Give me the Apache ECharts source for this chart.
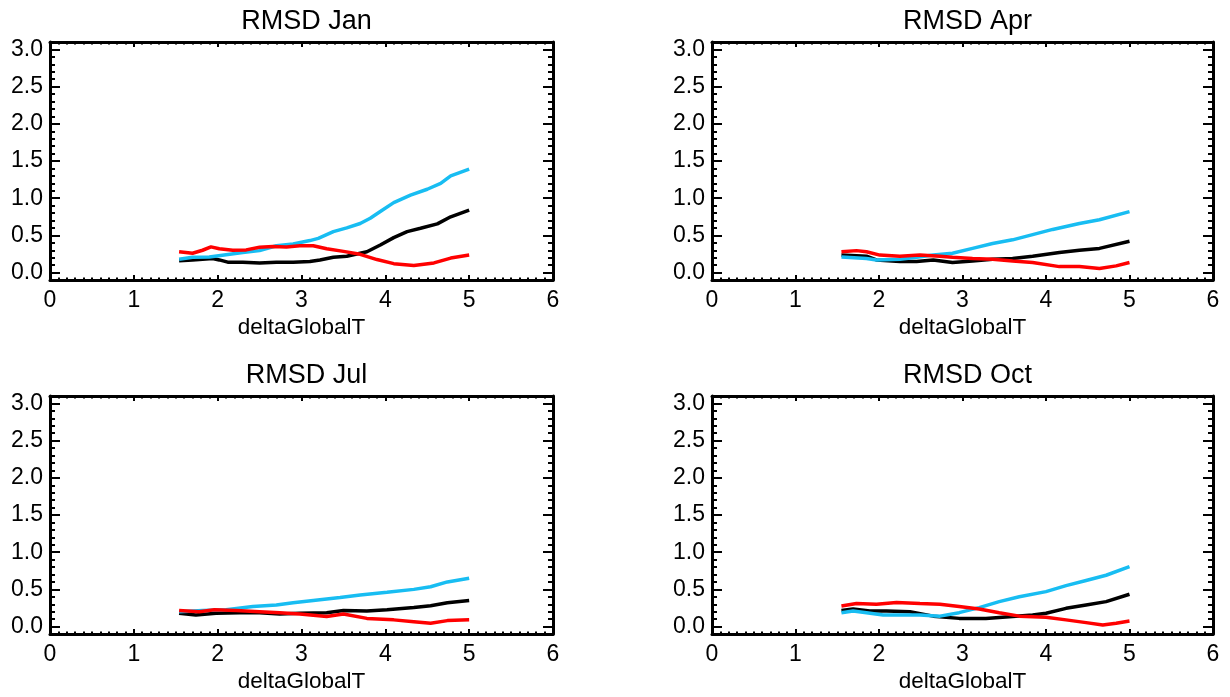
<!DOCTYPE html>
<html>
<head>
<meta charset="utf-8">
<script src="https://cdn.jsdelivr.net/npm/echarts@6/dist/echarts.min.js"></script>
<style>html,body{margin:0;padding:0;background:#fff;}#c{width:1230px;height:697px;}</style>
</head>
<body>
<div id="c"></div>
<script>
// ---- data ----
const panelTitles = ['RMSD Jan', 'RMSD Apr', 'RMSD Jul', 'RMSD Oct'];
const xTickValues = [0, 1, 2, 3, 4, 5, 6];
const yTickValues = [0, 0.5, 1.0, 1.5, 2.0, 2.5, 3.0];
const xAxisName = 'deltaGlobalT';

// Jan
const janBlackX = [1.54,1.70,1.94,2.02,2.12,2.30,2.50,2.70,2.90,3.10,3.22,3.38,3.54,3.78,3.94,4.10,4.26,4.42,4.62,4.78,5.00];
const janBlackY = [0.16,0.17,0.19,0.17,0.14,0.14,0.13,0.14,0.14,0.15,0.17,0.205,0.22,0.28,0.37,0.47,0.55,0.595,0.655,0.75,0.84];
const janCyanX = [1.54,1.70,1.90,2.10,2.30,2.50,2.70,2.90,3.10,3.20,3.38,3.54,3.70,3.82,3.94,4.10,4.30,4.50,4.66,4.78,5.00];
const janCyanY = [0.18,0.205,0.21,0.24,0.27,0.295,0.36,0.385,0.43,0.46,0.55,0.60,0.66,0.73,0.82,0.94,1.04,1.12,1.20,1.30,1.39];
const janRedX = [1.54,1.70,1.82,1.92,2.02,2.18,2.34,2.50,2.66,2.82,2.98,3.14,3.30,3.50,3.70,3.90,4.10,4.34,4.58,4.78,5.00];
const janRedY = [0.28,0.26,0.30,0.345,0.32,0.30,0.305,0.34,0.35,0.345,0.36,0.36,0.32,0.285,0.245,0.175,0.12,0.095,0.13,0.195,0.235];

// Apr
const aprBlackX = [1.55,1.85,1.97,2.25,2.45,2.65,2.88,3.12,3.36,3.60,3.84,4.16,4.40,4.64,5.00];
const aprBlackY = [0.235,0.22,0.17,0.15,0.15,0.17,0.135,0.155,0.18,0.19,0.22,0.27,0.30,0.325,0.42];
const aprCyanX = [1.55,1.85,1.97,2.25,2.45,2.65,2.88,3.12,3.36,3.60,3.84,4.08,4.40,4.64,5.00];
const aprCyanY = [0.21,0.19,0.17,0.18,0.205,0.235,0.26,0.325,0.39,0.44,0.51,0.58,0.66,0.71,0.82];
const aprRedX = [1.55,1.73,1.85,2.01,2.25,2.49,2.73,2.88,3.12,3.36,3.60,3.84,4.16,4.40,4.64,4.84,5.00];
const aprRedY = [0.28,0.295,0.28,0.235,0.22,0.235,0.22,0.205,0.19,0.18,0.155,0.135,0.08,0.08,0.055,0.09,0.135];

// Jul
const julBlackX = [1.54,1.74,1.98,2.26,2.50,2.74,2.98,3.30,3.50,3.78,4.02,4.34,4.54,4.74,5.00];
const julBlackY = [0.18,0.155,0.18,0.187,0.187,0.17,0.18,0.187,0.215,0.21,0.225,0.255,0.28,0.32,0.35];
const julCyanX = [1.54,1.82,2.10,2.42,2.70,2.90,3.14,3.46,3.70,4.02,4.34,4.54,4.74,5.00];
const julCyanY = [0.20,0.215,0.225,0.27,0.29,0.32,0.35,0.39,0.425,0.46,0.50,0.535,0.60,0.65];
const julRedX = [1.54,1.78,1.96,2.22,2.50,2.74,2.98,3.30,3.50,3.78,4.10,4.34,4.54,4.74,5.00];
const julRedY = [0.215,0.20,0.225,0.215,0.20,0.187,0.17,0.135,0.17,0.11,0.09,0.066,0.045,0.08,0.09];

// Oct
const octBlackX = [1.55,1.69,1.89,2.09,2.37,2.65,2.96,3.28,3.60,3.84,4.00,4.24,4.48,4.72,5.00];
const octBlackY = [0.215,0.235,0.21,0.21,0.20,0.14,0.11,0.11,0.135,0.156,0.18,0.245,0.29,0.335,0.435];
const octCyanX = [1.55,1.69,1.85,2.05,2.25,2.49,2.73,2.96,3.20,3.44,3.68,4.00,4.24,4.48,4.72,5.00];
const octCyanY = [0.187,0.21,0.187,0.156,0.156,0.156,0.14,0.187,0.255,0.335,0.40,0.47,0.55,0.62,0.69,0.805];
const octRedX = [1.55,1.73,1.97,2.21,2.49,2.73,2.96,3.20,3.44,3.68,4.00,4.24,4.48,4.68,4.84,5.00];
const octRedY = [0.277,0.31,0.30,0.325,0.31,0.30,0.27,0.235,0.187,0.14,0.125,0.09,0.053,0.02,0.045,0.075];

const panelSeries = [
  [[janBlackX, janBlackY], [janCyanX, janCyanY], [janRedX, janRedY]],
  [[aprBlackX, aprBlackY], [aprCyanX, aprCyanY], [aprRedX, aprRedY]],
  [[julBlackX, julBlackY], [julCyanX, julCyanY], [julRedX, julRedY]],
  [[octBlackX, octBlackY], [octCyanX, octCyanY], [octRedX, octRedY]]
];
const seriesColors = ['#000000', '#18bdf2', '#ff0000'];

// ---- layout ----
const FONT = 'Liberation Sans, Arial, Helvetica, sans-serif';
const grids = [
  {left: 50, top: 42, width: 503, height: 238},
  {left: 712, top: 42, width: 501, height: 238},
  {left: 50, top: 396, width: 503, height: 238},
  {left: 712, top: 396, width: 501, height: 238}
];
const Y_MIN = -0.1, Y_MAX = 3.1;
const yMinorValues = [];
for (let i = 0; i <= 31; i++) { if (i % 5 !== 0) yMinorValues.push(i / 10); }

const xAxes = [], yAxes = [], series = [], titles = [];
const lineW = 3;
grids.forEach((g, gi) => {
  titles.push({
    text: panelTitles[gi], left: g.left + g.width / 2, top: g.top - 39, textAlign: 'center',
    textStyle: {fontFamily: FONT, fontSize: 27, fontWeight: 'normal', color: '#000'}
  });
  const baseX = {
    type: 'value', gridIndex: gi, min: 0, max: 6, interval: 1,
    axisLine: {show: true, onZero: false, lineStyle: {color: '#000', width: lineW}},
    axisTick: {show: true, inside: true, length: 5, lineStyle: {color: '#000', width: 2}},
    minorTick: {show: true, splitNumber: 10, length: 2.5, lineStyle: {color: '#000', width: 2}},
    splitLine: {show: false}, minorSplitLine: {show: false}
  };
  xAxes.push(Object.assign({}, baseX, {
    position: 'bottom',
    axisLabel: {show: true, margin: 9, fontSize: 23, fontFamily: FONT, color: '#000', customValues: xTickValues},
    name: xAxisName, nameLocation: 'middle', nameGap: 36,
    nameTextStyle: {fontSize: 22.5, fontFamily: FONT, color: '#000'}
  }));
  xAxes.push(Object.assign({}, baseX, {position: 'top', axisLabel: {show: false}}));

  const baseY = {
    type: 'value', gridIndex: gi, min: Y_MIN, max: Y_MAX,
    splitLine: {show: false}
  };
  yAxes.push(Object.assign({}, baseY, {
    position: 'left',
    axisLine: {show: true, onZero: false, lineStyle: {color: '#000', width: lineW}},
    axisTick: {show: true, inside: true, length: 10, customValues: yTickValues, lineStyle: {color: '#000', width: 2}},
    axisLabel: {show: true, margin: 7, fontSize: 23, fontFamily: FONT, color: '#000', customValues: yTickValues,
      formatter: v => Number(v).toFixed(1), padding: [0, 0, 4, 0]}
  }));
  yAxes.push(Object.assign({}, baseY, {
    position: 'left',
    axisLine: {show: false, onZero: false},
    axisTick: {show: true, inside: true, length: 5, customValues: yMinorValues, lineStyle: {color: '#000', width: 2}},
    axisLabel: {show: false}
  }));
  yAxes.push(Object.assign({}, baseY, {
    position: 'right',
    axisLine: {show: true, onZero: false, lineStyle: {color: '#000', width: lineW}},
    axisTick: {show: true, inside: true, length: 10, customValues: yTickValues, lineStyle: {color: '#000', width: 2}},
    axisLabel: {show: false}
  }));
  yAxes.push(Object.assign({}, baseY, {
    position: 'right',
    axisLine: {show: false, onZero: false},
    axisTick: {show: true, inside: true, length: 5, customValues: yMinorValues, lineStyle: {color: '#000', width: 2}},
    axisLabel: {show: false}
  }));

  panelSeries[gi].forEach((s, si) => {
    const xs = s[0], ys = s[1];
    series.push({
      type: 'line', xAxisIndex: gi * 2, yAxisIndex: gi * 4,
      data: xs.map((x, i) => [x, ys[i]]),
      symbol: 'none', smooth: false, silent: true,
      lineStyle: {color: seriesColors[si], width: 3.5},
      z: 2 + si
    });
  });
});

const chart = echarts.init(document.getElementById('c'), null, {renderer: 'canvas'});
chart.setOption({
  animation: false,
  backgroundColor: '#fff',
  title: titles,
  grid: grids.map(g => Object.assign({containLabel: false}, g)),
  xAxis: xAxes,
  yAxis: yAxes,
  series: series
});
</script>
</body>
</html>
